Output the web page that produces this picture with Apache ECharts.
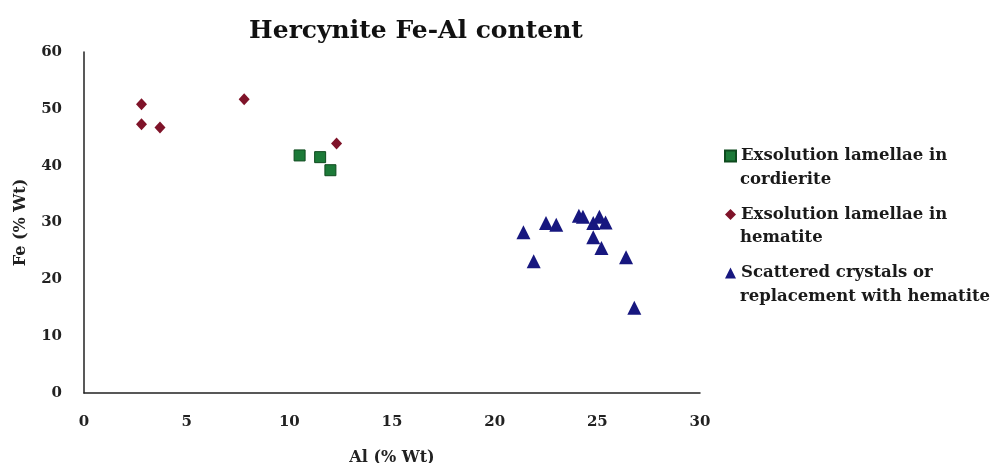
<!DOCTYPE html>
<html>
<head>
<meta charset="utf-8">
<script src="https://cdn.jsdelivr.net/npm/echarts@6/dist/echarts.min.js"></script>
<style>html,body{margin:0;padding:0;background:#fff}#c{width:991px;height:463px}</style>
</head>
<body>
<div id="c"></div>
<script>
const seriesNames = ['Exsolution lamellae in\ncordierite', 'Exsolution lamellae in\nhematite', 'Scattered crystals or\nreplacement with hematite'];
const cordierite = [[10.5, 41.8], [11.5, 41.5], [12.0, 39.2]];
const hematite = [[2.8, 50.8], [2.8, 47.3], [3.7, 46.7], [7.8, 51.7], [12.3, 43.9]];
const scattered = [[21.4, 28.3], [21.9, 23.2], [22.5, 29.9], [23.0, 29.6], [24.1, 31.2], [24.3, 31.0],
  [24.8, 29.9], [25.1, 31.0], [25.4, 30.0], [24.8, 27.4], [25.2, 25.5], [26.4, 23.9], [26.8, 15.0]];
const xTicks = [0, 5, 10, 15, 20, 25, 30];
const yTicks = [0, 10, 20, 30, 40, 50, 60];

const serif = 'DejaVu Serif';
const legendFont = { fontFamily: serif, fontWeight: 'bold', fontSize: 16.5, fill: '#1a1a1a' };
const legendLeft = 724, legendTop = 146, lineH = 20, legendGap = 38.5;
const secondLines = seriesNames.map((n, i) => ({
  type: 'text', left: legendLeft + 16,
  top: legendTop + i * (lineH + legendGap) + lineH + 5,
  style: Object.assign({ text: n.split('\n')[1] }, legendFont)
}));

const chart = echarts.init(document.getElementById('c'));
chart.setOption({
  animation: false,
  backgroundColor: '#fff',
  title: {
    text: 'Hercynite Fe-Al content', left: 411, top: 14, textAlign: 'center',
    textStyle: { fontFamily: serif, fontWeight: 'bold', fontSize: 25, color: '#111' }
  },
  grid: { left: 84, right: 291, top: 52, bottom: 70, containLabel: false, outerBoundsMode: 'none' },
  legend: {
    orient: 'vertical', left: legendLeft, top: legendTop, padding: 0, itemGap: legendGap, itemWidth: 11, itemHeight: 11,
    formatter: n => n.split('\n')[0],
    textStyle: { fontFamily: serif, fontWeight: 'bold', fontSize: 16.5, color: '#1a1a1a', lineHeight: lineH },
    data: seriesNames
  },
  graphic: secondLines,
  xAxis: {
    type: 'value', min: xTicks[0], max: xTicks[xTicks.length - 1], interval: 5,
    name: 'Al (% Wt)', nameLocation: 'middle', nameGap: 57,
    nameTextStyle: { fontFamily: serif, fontWeight: 'bold', fontSize: 16, color: '#222' },
    axisLine: { lineStyle: { color: '#222', width: 1.5 } },
    axisTick: { show: false }, splitLine: { show: false },
    axisLabel: { fontFamily: serif, fontWeight: 'bold', fontSize: 15, color: '#222', margin: 22 }
  },
  yAxis: {
    type: 'value', min: yTicks[0], max: yTicks[yTicks.length - 1], interval: 10,
    name: 'Fe (% Wt)', nameLocation: 'middle', nameGap: 55, nameRotate: 90,
    nameTextStyle: { fontFamily: serif, fontWeight: 'bold', fontSize: 16, color: '#222' },
    axisLine: { show: true, lineStyle: { color: '#222', width: 1.5 } },
    axisTick: { show: false }, splitLine: { show: false },
    axisLabel: { fontFamily: serif, fontWeight: 'bold', fontSize: 15, color: '#222', margin: 22 }
  },
  series: [
    { name: seriesNames[0], type: 'scatter', symbol: 'rect', symbolSize: 11, data: cordierite,
      itemStyle: { color: '#1c7a38', borderColor: '#0e4a1e', borderWidth: 1, opacity: 1 } },
    { name: seriesNames[1], type: 'scatter', symbol: 'diamond', symbolSize: [11, 12], data: hematite,
      itemStyle: { color: '#7f1329', opacity: 1 } },
    { name: seriesNames[2], type: 'scatter', symbol: 'triangle', symbolSize: [14, 14], data: scattered,
      itemStyle: { color: '#17177f', opacity: 1 } }
  ]
});
</script>
</body>
</html>
